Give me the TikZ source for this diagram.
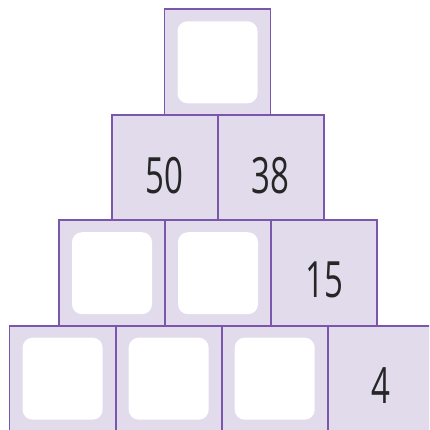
\documentclass[tikz,border=0pt]{standalone}
\usepackage{fontspec}
\setmainfont{Open Sans}
\usepackage{tikz}
\usetikzlibrary{positioning}
\definecolor{boxfill}{RGB}{225,219,235}
\definecolor{boxline}{RGB}{122,86,172}
\newcommand{\pyrnum}[1]{\scalebox{0.66}[1]{#1}}
\begin{document}
\begin{tikzpicture}[x=1pt, y=-1pt,
    cell/.style={rectangle, draw=boxline, fill=boxfill, line width=1.6pt,
        minimum width=106pt, minimum height=106pt, inner sep=0pt},
    hole/.style={rectangle, fill=white, rounded corners=10pt,
        minimum width=80pt, minimum height=82pt, inner sep=0pt},
    num/.style={inner sep=0pt, text=black!85,
        font=\fontsize{50}{50}\selectfont}]

\useasboundingbox (0,0) rectangle (429,430);
\clip (0,0) rectangle (429,430);

% Top box
\node[cell] (c1) at (217.5,62.3) {};
\node[hole] (h1) at (c1.center) {};

% Second row
\node[cell] (c21) at (164.7,168.2) {};
\node[cell] (c22) at (270.7,168.2) {};
\node[num] (n21) at ([yshift=-7pt]c21.center) {\pyrnum{50}};
\node[num] (n22) at ([yshift=-7pt]c22.center) {\pyrnum{38}};

% Third row
\node[cell] (c31) at (112,273.2) {};
\node[cell] (c32) at (218,273.2) {};
\node[cell] (c33) at (324,273.2) {};
\node[hole] (h31) at (c31.center) {};
\node[hole] (h32) at (c32.center) {};
\node[num] (n33) at ([yshift=-7pt]c33.center) {\pyrnum{15}};

% Bottom row
\node[cell] (c41) at (62.6,378.7) {};
\node[cell] (c42) at (168.7,378.7) {};
\node[cell] (c43) at (274.7,378.7) {};
\node[cell] (c44) at (380.7,378.7) {};
\node[hole] (h41) at (c41.center) {};
\node[hole] (h42) at (c42.center) {};
\node[hole] (h43) at (c43.center) {};
\node[num] (n44) at ([yshift=-7pt]c44.center) {\pyrnum{4}};
\end{tikzpicture}
\end{document}
